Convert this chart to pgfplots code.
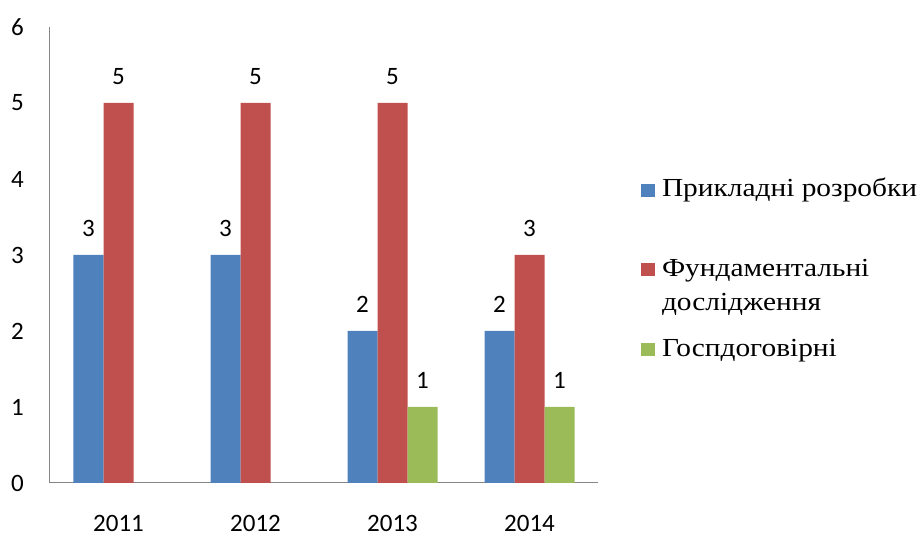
\documentclass[border=0pt]{standalone}
\usepackage{pgfplots}
\pgfplotsset{compat=1.18}
\usepackage{fontspec}
\setmainfont{Carlito}
\newfontfamily\legfont[FakeStretch=1.13]{Liberation Serif}
\definecolor{cblue}{HTML}{4F81BD}
\definecolor{cred}{HTML}{C0504D}
\definecolor{cgreen}{HTML}{9BBB59}
\definecolor{axgray}{HTML}{868686}
\begin{document}
\begin{tikzpicture}
\begin{axis}[
 scale only axis, width=548pt, height=456pt,
 xmin=-0.5, xmax=3.5, ymin=0, ymax=6,
 ybar=0pt, bar width=30pt,
 axis lines*=left,
 axis line style={draw=axgray, line width=1pt},
 major tick length=0pt,
 xtick={0,1,2,3}, xticklabels={2011,2012,2013,2014},
 ytick={0,1,2,3,4,5,6},
 /pgf/number format/assume math mode=true,
 tick label style={font=\fontsize{25}{30}\selectfont, text=black},
 xticklabel style={inner sep=0pt, anchor=north, yshift=-32pt},
 yticklabel style={inner sep=0pt, anchor=east, xshift=-26pt},
 nodes near coords,
 every node near coord/.append style={font=\fontsize{25}{30}\selectfont, inner sep=0pt, anchor=south, yshift=18pt, text=black},
 legend image code/.code={\fill[#1,draw=none] (0pt,0pt) rectangle (14pt,13pt);},
 legend style={draw=none, fill=none, inner sep=0pt, outer sep=0pt, at={(1,1)}, anchor=north west, xshift=43pt, yshift=-151pt, font=\legfont\fontsize{26}{34}\selectfont, row sep=23.5pt, column sep=7pt, nodes={inner sep=0pt, text depth=}, cells={anchor=base west}},
]
\addplot[fill=cblue, draw=none] coordinates {(0,3) (1,3) (2,2) (3,2)};
\addlegendentry{\vtop{\hbox{Прикладні розробки}\hbox{\vphantom{д}}}}
\addplot[fill=cred, draw=none] coordinates {(0,5) (1,5) (2,5) (3,3)};
\addlegendentry{\vtop{\hbox{Фундаментальні}\hbox{дослідження}}}
\addplot[fill=cgreen, draw=none, bar shift=30pt] coordinates {(2,1) (3,1)};
\addlegendentry{\vtop{\hbox{Госпдоговірні}\hbox{\vphantom{д}}}}
\end{axis}
\path ([shift={(-50pt,-53pt)}]current axis.south west) rectangle ([shift={(323pt,27pt)}]current axis.north east);
\end{tikzpicture}
\end{document}
